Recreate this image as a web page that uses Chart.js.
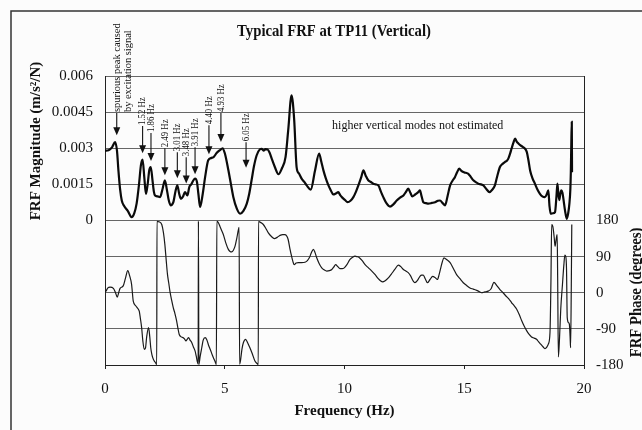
<!DOCTYPE html>
<html><head><meta charset="utf-8">
<script src="https://cdn.jsdelivr.net/npm/chart.js@4.4.0/dist/chart.umd.min.js"></script>
<style>html,body{margin:0;padding:0;background:#fcfcfc;} canvas{display:block;}</style>
</head><body>
<canvas id="c" width="642" height="430"></canvas>
<script>
// ---------- DATA ----------
const magFreq = [0.00,0.15,0.30,0.42,0.50,0.56,0.63,0.70,0.80,0.95,1.11,1.22,1.32,1.42,1.50,1.57,1.64,1.71,1.78,1.85,1.91,1.98,2.04,2.09,2.20,2.30,2.40,2.50,2.58,2.66,2.74,2.85,2.95,3.02,3.10,3.17,3.26,3.34,3.44,3.52,3.60,3.68,3.76,3.84,3.90,3.97,4.08,4.18,4.31,4.45,4.55,4.66,4.80,4.91,5.00,5.15,5.26,5.36,5.50,5.64,5.78,5.92,6.02,6.12,6.22,6.33,6.47,6.54,6.62,6.70,6.79,6.88,6.96,7.10,7.24,7.38,7.54,7.65,7.79,7.90,8.00,8.10,8.21,8.32,8.42,8.59,8.77,8.94,9.03,9.12,9.22,9.33,9.43,9.53,9.64,9.74,9.82,9.91,10.02,10.13,10.25,10.37,10.48,10.58,10.70,10.79,10.89,10.99,11.10,11.20,11.30,11.41,11.52,11.62,11.75,11.90,12.05,12.18,12.32,12.46,12.56,12.66,12.75,12.83,12.95,13.08,13.15,13.22,13.29,13.40,13.50,13.65,13.78,13.90,13.99,14.10,14.20,14.30,14.41,14.51,14.61,14.70,14.79,14.88,14.96,15.06,15.17,15.28,15.38,15.50,15.59,15.70,15.80,15.93,16.05,16.17,16.28,16.38,16.49,16.60,16.70,16.78,16.84,16.92,16.98,17.05,17.12,17.19,17.26,17.35,17.44,17.52,17.61,17.68,17.75,17.85,17.95,18.05,18.16,18.26,18.37,18.45,18.51,18.56,18.61,18.70,18.79,18.85,18.89,18.93,18.97,19.01,19.05,19.10,19.14,19.21,19.28,19.34,19.39,19.43,19.45,19.47,19.49,19.50];
const magValues = [0.00290,0.00292,0.00305,0.00326,0.00290,0.00208,0.00130,0.00083,0.00060,0.00040,0.00014,0.00030,0.00070,0.00150,0.00230,0.00253,0.00180,0.00110,0.00150,0.00210,0.00222,0.00170,0.00120,0.00104,0.00100,0.00097,0.00130,0.00167,0.00130,0.00085,0.00063,0.00075,0.00125,0.00146,0.00110,0.00090,0.00100,0.00118,0.00104,0.00139,0.00150,0.00165,0.00174,0.00160,0.00110,0.00056,0.00110,0.00180,0.00250,0.00260,0.00265,0.00280,0.00292,0.00300,0.00280,0.00210,0.00150,0.00097,0.00050,0.00028,0.00040,0.00070,0.00110,0.00167,0.00225,0.00270,0.00296,0.00298,0.00290,0.00296,0.00295,0.00280,0.00257,0.00220,0.00192,0.00215,0.00264,0.00375,0.00520,0.00417,0.00222,0.00195,0.00174,0.00160,0.00146,0.00128,0.00208,0.00278,0.00245,0.00208,0.00175,0.00146,0.00125,0.00108,0.00112,0.00118,0.00105,0.00095,0.00085,0.00076,0.00082,0.00097,0.00120,0.00146,0.00180,0.00208,0.00185,0.00167,0.00160,0.00153,0.00150,0.00146,0.00120,0.00097,0.00072,0.00058,0.00068,0.00083,0.00095,0.00104,0.00118,0.00132,0.00115,0.00100,0.00108,0.00118,0.00125,0.00100,0.00076,0.00072,0.00070,0.00073,0.00076,0.00082,0.00083,0.00072,0.00063,0.00100,0.00146,0.00165,0.00180,0.00200,0.00215,0.00206,0.00201,0.00198,0.00194,0.00180,0.00167,0.00158,0.00153,0.00150,0.00146,0.00130,0.00118,0.00128,0.00146,0.00185,0.00222,0.00235,0.00243,0.00248,0.00257,0.00280,0.00300,0.00322,0.00340,0.00328,0.00320,0.00312,0.00306,0.00300,0.00285,0.00250,0.00208,0.00175,0.00153,0.00130,0.00111,0.00100,0.00097,0.00110,0.00125,0.00060,0.00028,0.00030,0.00035,0.00100,0.00153,0.00110,0.00085,0.00110,0.00125,0.00115,0.00090,0.00040,0.00007,0.00030,0.00070,0.00130,0.00200,0.00320,0.00410,0.00200];

const phaseFreq = [0.00,0.04,0.12,0.21,0.35,0.44,0.51,0.58,0.63,0.76,0.85,0.95,1.03,1.11,1.18,1.29,1.38,1.43,1.48,1.53,1.58,1.64,1.69,1.74,1.82,1.87,1.91,1.96,2.02,2.08,2.13,2.16,2.17,2.25,2.37,2.44,2.50,2.55,2.61,2.66,2.71,2.78,2.85,2.92,2.99,3.05,3.10,3.18,3.27,3.33,3.38,3.43,3.49,3.55,3.62,3.69,3.76,3.81,3.85,3.89,3.90,3.92,3.97,4.04,4.10,4.18,4.25,4.32,4.40,4.48,4.55,4.60,4.65,4.67,4.73,4.80,4.87,4.94,5.04,5.15,5.22,5.29,5.36,5.43,5.50,5.57,5.60,5.62,5.66,5.72,5.78,5.87,5.96,6.05,6.15,6.26,6.36,6.40,6.41,6.47,6.53,6.61,6.70,6.82,6.95,7.07,7.19,7.31,7.42,7.52,7.60,7.65,7.72,7.79,7.85,7.90,7.98,8.07,8.20,8.35,8.45,8.53,8.62,8.70,8.77,8.84,8.94,9.05,9.15,9.26,9.37,9.47,9.55,9.63,9.72,9.81,9.90,9.99,10.10,10.23,10.33,10.44,10.52,10.61,10.74,10.86,11.00,11.14,11.28,11.41,11.50,11.59,11.70,11.83,11.95,12.10,12.25,12.35,12.46,12.56,12.66,12.76,12.86,12.94,13.04,13.15,13.22,13.29,13.37,13.46,13.57,13.68,13.78,13.88,13.95,14.02,14.08,14.15,14.28,14.41,14.55,14.68,14.82,14.96,15.10,15.24,15.38,15.52,15.62,15.72,15.86,16.00,16.12,16.24,16.36,16.49,16.62,16.74,16.86,16.98,17.08,17.19,17.30,17.40,17.50,17.61,17.71,17.81,17.92,18.02,18.10,18.19,18.28,18.37,18.44,18.51,18.58,18.62,18.65,18.70,18.72,18.76,18.79,18.83,18.86,18.88,18.90,18.93,18.98,19.03,19.10,19.16,19.20,19.24,19.27,19.30,19.36,19.39,19.42,19.44,19.47,19.49];
const phaseValues = [2,4,12,14,11,0,-11,2,11,17,35,55,42,21,-21,-33,-40,-46,-65,-87,-120,-141,-138,-110,-87,-110,-137,-155,-166,-172,-176,-179,178,177,170,150,120,85,45,25,4,-18,-37,-52,-70,-90,-104,-110,-112,-116,-120,-116,-112,-118,-124,-135,-145,-158,-170,-178,179,-179,-160,-137,-118,-112,-117,-130,-142,-155,-165,-172,-179,178,175,165,155,145,125,108,103,102,106,116,135,157,163,-178,-168,-140,-124,-116,-125,-137,-152,-170,-177,-179,178,176,174,170,162,149,140,135,138,143,145,145,140,132,110,91,77,70,74,75,75,76,80,87,100,108,100,87,73,62,57,54,55,58,64,70,65,60,60,62,70,83,88,91,90,88,80,70,62,54,45,35,30,27,30,37,46,58,69,65,58,54,50,42,30,25,30,41,44,44,35,25,33,41,38,33,45,62,76,87,82,75,60,45,35,25,18,12,9,6,3,0,2,4,10,26,18,8,0,-8,-15,-25,-32,-41,-55,-70,-83,-95,-104,-110,-113,-116,-122,-128,-134,-139,-136,-128,-99,30,170,165,157,135,116,130,141,145,40,-160,-110,-40,20,70,94,90,60,-62,-75,-79,-110,-137,20,170];

const xTickValues = [0, 5, 10, 15, 20];
const magTickValues = [0, 0.0015, 0.003, 0.0045, 0.006];
const magTickLabels = ['0', '0.0015', '0.003', '0.0045', '0.006'];
const phaseTickValues = [-180, -90, 0, 90, 180];
const phaseTickLabels = ['-180', '-90', '0', '90', '180'];

const modeLabels = ['1.52 Hz','1.86 Hz','2.49 Hz','3.01 Hz','3.48 Hz','3.91 Hz','4.40 Hz','4.93 Hz','6.05 Hz'];
const modeArrowFreq = [1.57, 1.92, 2.50, 3.02, 3.39, 3.76, 4.34, 4.84, 5.89];
const modeArrowTip  = [0.00279, 0.00247, 0.00188, 0.00175, 0.00154, 0.00192, 0.00275, 0.00326, 0.00219];
const modeLabelBase = [0.00392, 0.00363, 0.00300, 0.00283, 0.00263, 0.00304, 0.00396, 0.00446, 0.00325];

const spuriousText = ['spurious peak caused', 'by excitation signal'];
const spuriousFreq = 0.49;
const spuriousTip = 0.00354;
const spuriousBase = 0.00446;

const noteText = 'higher vertical modes not estimated';
const noteFreq = 9.48;
const noteMag = 0.00392;

const chartTitle = 'Typical FRF at TP11 (Vertical)';
const xTitle = 'Frequency (Hz)';
const yMagTitle = 'FRF Magnitude (m/s\u00B2/N)';
const yPhaseTitle = 'FRF Phase (degrees)';

// ---------- CHART ----------
const SERIF = '"Liberation Serif", "Times New Roman", serif';
const INK = '#111';

function labelFor(values, labels, v) {
  const i = values.findIndex(t => Math.abs(t - v) < 1e-9);
  return i >= 0 ? labels[i] : '';
}
const magGridValues = magTickValues.slice(1).map(v => -v).reverse().concat(magTickValues);

const decor = {
  id: 'decor',
  afterDraw(chart) {
    const ctx = chart.ctx;
    const xs = chart.scales.x, ym = chart.scales.yMag;
    const area = chart.chartArea;
    ctx.save();
    // outer frame
    ctx.strokeStyle = '#333'; ctx.lineWidth = 1.5;
    ctx.beginPath(); ctx.moveTo(11, 430); ctx.lineTo(11, 11); ctx.lineTo(642, 11); ctx.stroke();
    ctx.fillStyle = INK;
    // title
    ctx.save();
    ctx.font = 'bold 16px ' + SERIF;
    ctx.textAlign = 'center'; ctx.textBaseline = 'middle';
    ctx.translate(334, 32); ctx.scale(0.92, 1);
    ctx.fillText(chartTitle, 0, 0);
    ctx.restore();
    // x title
    ctx.font = 'bold 15px ' + SERIF;
    ctx.textAlign = 'center'; ctx.textBaseline = 'middle';
    ctx.fillText(xTitle, (area.left + area.right) / 2, 411);
    // y magnitude title
    ctx.save();
    ctx.translate(39.5, 141); ctx.rotate(-Math.PI / 2);
    ctx.font = 'bold 15px ' + SERIF;
    ctx.textBaseline = 'alphabetic';
    ctx.fillText(yMagTitle, 0, 0);
    ctx.restore();
    // y phase title (partly cut by the page edge, as in the original)
    ctx.save();
    ctx.translate(640.5, 292.5); ctx.rotate(-Math.PI / 2); ctx.scale(0.92, 1);
    ctx.font = 'bold 16px ' + SERIF;
    ctx.textBaseline = 'alphabetic';
    ctx.fillText(yPhaseTitle, 0, 0);
    ctx.restore();
    // note
    ctx.font = '12px ' + SERIF;
    ctx.textAlign = 'left'; ctx.textBaseline = 'middle';
    ctx.fillText(noteText, xs.getPixelForValue(noteFreq), ym.getPixelForValue(noteMag));

    function arrow(x, y0, y1) {
      const head = 8, hw = 3.5;
      ctx.strokeStyle = INK; ctx.lineWidth = 1.1;
      ctx.beginPath(); ctx.moveTo(x, y0); ctx.lineTo(x, y1 - head + 1); ctx.stroke();
      ctx.beginPath(); ctx.moveTo(x - hw, y1 - head); ctx.lineTo(x + hw, y1 - head); ctx.lineTo(x, y1); ctx.closePath(); ctx.fill();
    }
    function vtext(str, x, y, size, sx) {
      ctx.save();
      ctx.translate(x, y); ctx.rotate(-Math.PI / 2); ctx.scale(sx, 1);
      ctx.font = size + 'px ' + SERIF;
      ctx.textAlign = 'left'; ctx.textBaseline = 'middle';
      ctx.fillText(str, 0, 0);
      ctx.restore();
    }
    // spurious annotation
    {
      const x = xs.getPixelForValue(spuriousFreq);
      const yb = ym.getPixelForValue(spuriousBase);
      arrow(x, yb, ym.getPixelForValue(spuriousTip));
      vtext(spuriousText[0], x, yb - 1, 11, 0.95);
      vtext(spuriousText[1], x + 11, yb - 1, 11, 0.95);
    }
    modeLabels.forEach((lab, i) => {
      const x = xs.getPixelForValue(modeArrowFreq[i]);
      const yb = ym.getPixelForValue(modeLabelBase[i]);
      arrow(x, yb, ym.getPixelForValue(modeArrowTip[i]));
      vtext(lab, x, yb - 1, 11, 0.8);
    });
    ctx.restore();
  }
};

new Chart(document.getElementById('c').getContext('2d'), {
  type: 'line',
  data: {
    datasets: [
      {
        data: magFreq.map((f, i) => ({ x: f, y: magValues[i] })),
        yAxisID: 'yMag', borderColor: '#0a0a0a', borderWidth: 2.2,
        pointRadius: 0, fill: false, cubicInterpolationMode: 'monotone'
      },
      {
        data: phaseFreq.map((f, i) => ({ x: f, y: phaseValues[i] })),
        yAxisID: 'yPhase', borderColor: '#1a1a1a', borderWidth: 1.2,
        pointRadius: 0, fill: false, cubicInterpolationMode: 'monotone'
      }
    ]
  },
  options: {
    responsive: false, devicePixelRatio: 1, animation: false,
    layout: { padding: { top: 76, left: 0, right: 0, bottom: 0 } },
    plugins: { legend: { display: false }, tooltip: { enabled: false }, title: { display: false } },
    scales: {
      x: {
        type: 'linear', min: 0, max: 20,
        afterBuildTicks: s => { s.ticks = xTickValues.map(v => ({ value: v })); },
        afterFit: s => { s.height = 65; },
        ticks: { font: { family: SERIF, size: 15 }, color: INK, padding: 11, maxRotation: 0, autoSkip: false },
        grid: { drawOnChartArea: false, drawTicks: true, tickLength: 4, color: '#222' },
        border: { display: true, color: '#222', width: 1 }
      },
      yMag: {
        type: 'linear', position: 'left', min: -0.006, max: 0.006,
        afterBuildTicks: s => { s.ticks = magGridValues.map(v => ({ value: v })); },
        afterFit: s => { s.width = 105; },
        ticks: {
          font: { family: SERIF, size: 15 }, color: INK, padding: 12, autoSkip: false,
          callback: v => labelFor(magTickValues, magTickLabels, v)
        },
        grid: { color: '#666', lineWidth: 1, drawTicks: false },
        border: { display: true, color: '#222', width: 1 }
      },
      yPhase: {
        type: 'linear', position: 'right', min: -180, max: 540,
        afterBuildTicks: s => { s.ticks = phaseTickValues.map(v => ({ value: v })); },
        afterFit: s => { s.width = 58; },
        ticks: {
          font: { family: SERIF, size: 15 }, color: INK, padding: 12, autoSkip: false,
          callback: v => labelFor(phaseTickValues, phaseTickLabels, v)
        },
        grid: { display: false, drawTicks: false },
        border: { display: true, color: '#222', width: 1 }
      }
    }
  },
  plugins: [decor]
});
</script>
</body></html>
